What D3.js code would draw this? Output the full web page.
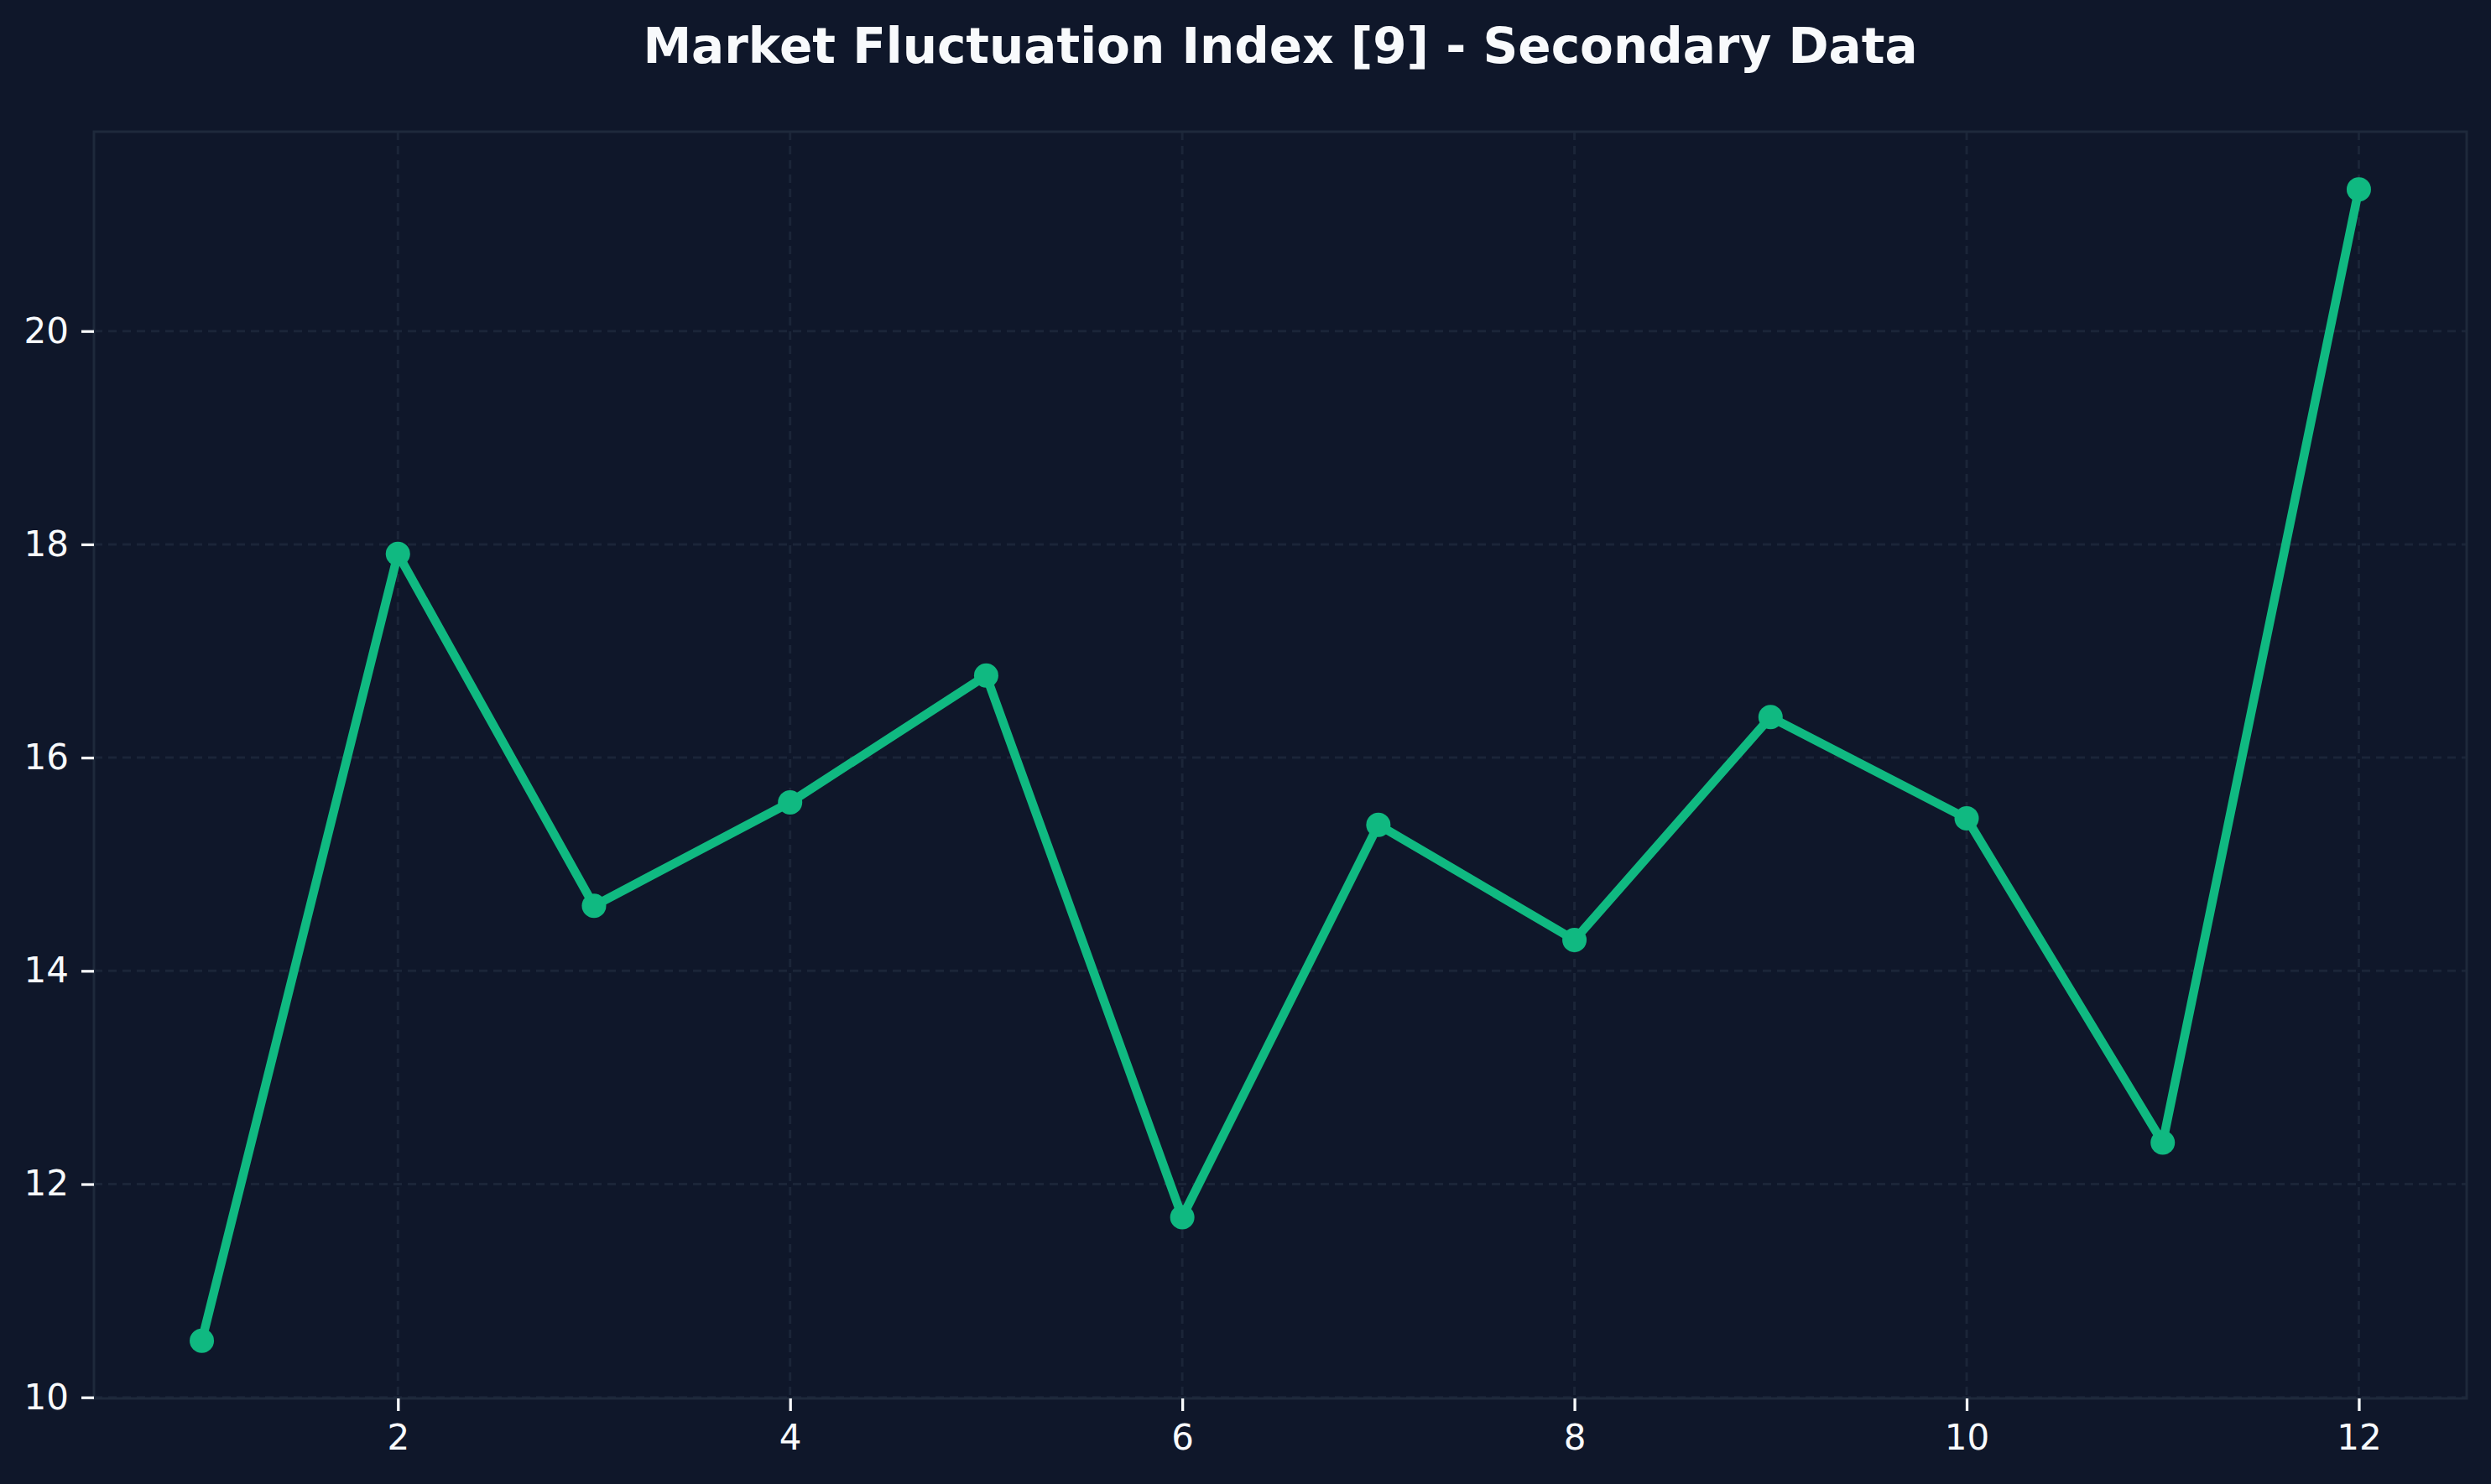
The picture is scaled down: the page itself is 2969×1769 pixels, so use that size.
<!DOCTYPE html>
<html>
<head>
<meta charset="utf-8">
<script src="https://cdn.jsdelivr.net/npm/d3@7"></script>
<style>
  body { margin: 0; background: #0f172a; }
  svg { display: block; font-family: "DejaVu Sans", sans-serif; }
</style>
</head>
<body>
<div id="chart-area"></div>
<script>
// data
var months = [1, 2, 3, 4, 5, 6, 7, 8, 9, 10, 11, 12];
var values = [10.53, 17.91, 14.61, 15.58, 16.77, 11.69, 15.37, 14.29, 16.38, 15.43, 12.39, 21.33];
var xTicks = [2, 4, 6, 8, 10, 12];
var yTicks = [10, 12, 14, 16, 18, 20];
var title = "Market Fluctuation Index [9] - Secondary Data";

var W = 2969, H = 1769;
var plotLeft = 112, plotRight = 2940, plotTop = 157, plotBottom = 1667;

var svg = d3.select("#chart-area").append("svg")
  .attr("width", W)
  .attr("height", H)
  .style("background-color", "#0f172a");

// matplotlib style 5% margins
var xMin = d3.min(months), xMax = d3.max(months);
var yMin = d3.min(values), yMax = d3.max(values);
var xPad = (xMax - xMin) * 0.05, yPad = (yMax - yMin) * 0.05;

var x = d3.scaleLinear()
  .domain([xMin - xPad, xMax + xPad])
  .range([plotLeft, plotRight]);

var y = d3.scaleLinear()
  .domain([yMin - yPad, yMax + yPad])
  .range([plotBottom, plotTop]);

// grid
svg.append("g").selectAll("line").data(xTicks).enter().append("line")
  .attr("x1", d => x(d)).attr("x2", d => x(d))
  .attr("y1", plotTop).attr("y2", plotBottom)
  .attr("stroke", "#1b2538").attr("stroke-width", 3)
  .attr("stroke-dasharray", "10,7");

svg.append("g").selectAll("line").data(yTicks).enter().append("line")
  .attr("x1", plotLeft).attr("x2", plotRight)
  .attr("y1", d => y(d)).attr("y2", d => y(d))
  .attr("stroke", "#1b2538").attr("stroke-width", 3)
  .attr("stroke-dasharray", "10,7");

// frame
svg.append("rect")
  .attr("x", plotLeft).attr("y", plotTop)
  .attr("width", plotRight - plotLeft).attr("height", plotBottom - plotTop)
  .attr("fill", "none")
  .attr("stroke", "#1e293b")
  .attr("stroke-width", 3);

// axes
var xAxis = svg.append("g")
  .attr("transform", "translate(0," + plotBottom + ")")
  .call(d3.axisBottom(x).tickValues(xTicks).tickSize(15).tickPadding(16).tickFormat(d3.format("d")));

var yAxis = svg.append("g")
  .attr("transform", "translate(" + plotLeft + ",0)")
  .call(d3.axisLeft(y).tickValues(yTicks).tickSize(15).tickPadding(15).tickFormat(d3.format("d")));

[xAxis, yAxis].forEach(function(a) {
  a.select(".domain").remove();
  a.selectAll(".tick line").attr("stroke", "#f8fafc").attr("stroke-width", 3.3);
  a.selectAll(".tick text")
    .attr("fill", "#f8fafc")
    .style("font-size", "42px")
    .style("font-family", "DejaVu Sans");
});

// line + markers
var line = d3.line()
  .x((d, i) => x(months[i]))
  .y(d => y(d));

svg.append("path")
  .datum(values)
  .attr("d", line)
  .attr("fill", "none")
  .attr("stroke", "#10b981")
  .attr("stroke-width", 10.5)
  .attr("stroke-linejoin", "round");

svg.append("g").selectAll("circle").data(values).enter().append("circle")
  .attr("cx", (d, i) => x(months[i]))
  .attr("cy", d => y(d))
  .attr("r", 14.5)
  .attr("fill", "#10b981");

// title
svg.append("text")
  .attr("x", (plotLeft + plotRight) / 2)
  .attr("y", 75)
  .attr("text-anchor", "middle")
  .attr("fill", "#f8fafc")
  .style("font-size", "58px")
  .style("font-weight", "bold")
  .text(title);
</script>
</body>
</html>
